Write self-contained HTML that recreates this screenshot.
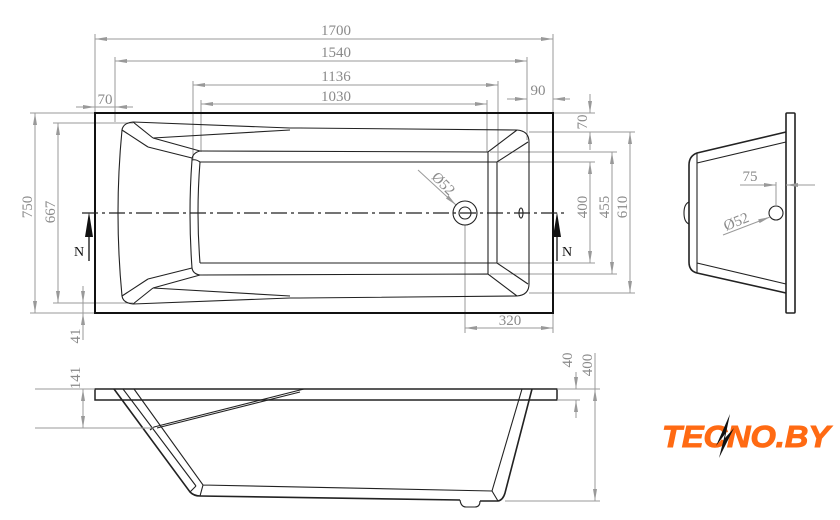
<!DOCTYPE html>
<html><head><meta charset="utf-8"><style>
html,body{margin:0;padding:0;background:#fff;}
svg{display:block}
.d{stroke:#9a9a9a;stroke-width:1;fill:none}
.t{font-family:"Liberation Serif",serif;font-size:15px;fill:#8a8a8a}
.k{stroke:#222;stroke-width:1.1;fill:none}
.K{stroke:#111;stroke-width:2;fill:none}
</style></head><body>
<svg width="840" height="520" viewBox="0 0 840 520" xmlns="http://www.w3.org/2000/svg">
<defs>
<marker id="a" viewBox="0 0 12 4" refX="12" refY="2" markerWidth="12" markerHeight="4" markerUnits="userSpaceOnUse" orient="auto-start-reverse"><path d="M0,0 L12,2 L0,4 z" fill="#999"/></marker>
</defs>
<g class="d">
<line x1="95" y1="34" x2="95" y2="113"/><line x1="553" y1="34" x2="553" y2="113"/>
<line x1="95" y1="39" x2="553" y2="39" marker-start="url(#a)" marker-end="url(#a)"/>
<line x1="115" y1="57" x2="115" y2="122"/><line x1="527" y1="57" x2="527" y2="140"/>
<line x1="115" y1="61" x2="527" y2="61" marker-start="url(#a)" marker-end="url(#a)"/>
<line x1="193" y1="81" x2="193" y2="160"/><line x1="498" y1="81" x2="498" y2="162"/>
<line x1="193" y1="85" x2="498" y2="85" marker-start="url(#a)" marker-end="url(#a)"/>
<line x1="201" y1="100" x2="201" y2="152"/><line x1="487" y1="100" x2="487" y2="152"/>
<line x1="201" y1="104" x2="487" y2="104" marker-start="url(#a)" marker-end="url(#a)"/>
<line x1="76" y1="107" x2="95" y2="107" marker-end="url(#a)"/><line x1="133" y1="107" x2="115" y2="107" marker-end="url(#a)"/>
<line x1="88" y1="107" x2="133" y2="107"/>
<line x1="507" y1="99" x2="527" y2="99" marker-end="url(#a)"/><line x1="570" y1="99" x2="553" y2="99" marker-end="url(#a)"/>
<line x1="553" y1="99" x2="570" y2="99"/>
<line x1="553" y1="113" x2="595" y2="113"/><line x1="529" y1="132" x2="635" y2="132"/>
<line x1="590" y1="94" x2="590" y2="113" marker-end="url(#a)"/><line x1="590" y1="150" x2="590" y2="132" marker-end="url(#a)"/>
<line x1="498" y1="162" x2="595" y2="162"/><line x1="498" y1="263" x2="595" y2="263"/>
<line x1="590" y1="162" x2="590" y2="263" marker-start="url(#a)" marker-end="url(#a)"/>
<line x1="490" y1="152" x2="617" y2="152"/><line x1="490" y1="274" x2="617" y2="274"/>
<line x1="612" y1="152" x2="612" y2="274" marker-start="url(#a)" marker-end="url(#a)"/>
<line x1="529" y1="293" x2="635" y2="293"/>
<line x1="630" y1="132" x2="630" y2="293" marker-start="url(#a)" marker-end="url(#a)"/>
<line x1="30" y1="113" x2="95" y2="113"/><line x1="30" y1="313" x2="95" y2="313"/>
<line x1="35" y1="113" x2="35" y2="313" marker-start="url(#a)" marker-end="url(#a)"/>
<line x1="53" y1="123" x2="133" y2="123"/><line x1="53" y1="303" x2="133" y2="303"/>
<line x1="58" y1="123" x2="58" y2="303" marker-start="url(#a)" marker-end="url(#a)"/>
<line x1="83" y1="286" x2="83" y2="303" marker-end="url(#a)"/><line x1="83" y1="332" x2="83" y2="313" marker-end="url(#a)"/>
<line x1="83" y1="303" x2="83" y2="340"/>
<line x1="465" y1="225" x2="465" y2="333"/><line x1="553" y1="313" x2="553" y2="333"/>
<line x1="465" y1="328" x2="553" y2="328" marker-start="url(#a)" marker-end="url(#a)"/>
<line x1="418" y1="170" x2="456" y2="205" marker-end="url(#a)"/>
</g>
<g class="t">
<text x="336" y="35" text-anchor="middle">1700</text>
<text x="336" y="57" text-anchor="middle">1540</text>
<text x="336" y="81" text-anchor="middle">1136</text>
<text x="336" y="101" text-anchor="middle">1030</text>
<text x="105" y="104" text-anchor="middle">70</text>
<text x="538" y="95" text-anchor="middle">90</text>
<text x="510" y="325" text-anchor="middle">320</text>
<text transform="translate(587,122) rotate(-90)" text-anchor="middle">70</text>
<text transform="translate(587,207) rotate(-90)" text-anchor="middle">400</text>
<text transform="translate(609,207) rotate(-90)" text-anchor="middle">455</text>
<text transform="translate(627,207) rotate(-90)" text-anchor="middle">610</text>
<text transform="translate(32,207) rotate(-90)" text-anchor="middle">750</text>
<text transform="translate(55,212) rotate(-90)" text-anchor="middle">667</text>
<text transform="translate(80,336) rotate(-90)" text-anchor="middle">41</text>
<text transform="translate(440,187) rotate(45)" text-anchor="middle">Ø52</text>
</g>
<rect x="95" y="113" width="458" height="200" class="K"/>
<g class="k">
<path d="M133,122 L290,128 L300,128 L517,130 Q529,131 529,142 L529,284 Q529,295 517,296 L300,298 L290,298 L133,304 Q123,303 122,296 Q114,213 122,130 Q123,123 133,122 Z"/>
<path d="M153,138 L290,130 M153,288 L290,296"/>
<path d="M133,122 L153,138 M122,130 L148,147 M133,304 L153,288 M122,296 L148,279"/>
<path d="M153,138 L200,151 M148,147 L192,158 M153,288 L200,275 M148,279 L192,268"/>
<path d="M200,151 L488,152 L517,130 M192,160 Q196,159 200,162 L497,162 L528,142"/>
<path d="M200,275 L488,274 L517,296 M200,263 L497,263 L528,284"/>
<path d="M200,151 Q192,153 192,160 Q188,213 192,268 Q193,274 200,275 M200,162 Q196,213 200,263"/>
<path d="M488,152 L488,274 M497,162 L497,263"/>
<circle cx="465" cy="213" r="12"/><circle cx="465" cy="213" r="6"/>
<ellipse cx="521" cy="213" rx="2" ry="5"/>
</g>
<line x1="82" y1="213" x2="566" y2="213" stroke="#222" stroke-width="1.2" stroke-dasharray="16,4,3,4"/>
<g stroke="#111" stroke-width="1.3"><line x1="89" y1="222" x2="89" y2="261"/><line x1="557" y1="222" x2="557" y2="261"/></g>
<path d="M89,212 L85,237 L93,237 Z M557,212 L553,237 L561,237 Z" fill="#111"/>
<g font-family="Liberation Serif,serif" font-size="14" fill="#111"><text x="74" y="256">N</text><text x="562" y="256">N</text></g>
<g class="k">
<rect x="786" y="113" width="9" height="200" rx="1" stroke-width="1.6"/>
<path d="M786,132 L697,153 Q689,156 689,165 L689,262 Q689,271 697,273 L786,293" stroke-width="1.6"/>
<path d="M786,142 L697,163 M786,284 L697,263 M697,153 L697,273"/>
<path d="M689,202 Q684,204 684,213 Q684,222 689,224"/>
<circle cx="776" cy="213" r="7"/>
</g>
<g class="d">
<line x1="776" y1="182" x2="776" y2="206"/>
<line x1="740" y1="185" x2="776" y2="185" marker-end="url(#a)"/><line x1="815" y1="185" x2="786" y2="185" marker-end="url(#a)"/>
<line x1="723" y1="235" x2="770" y2="217" marker-end="url(#a)"/>
</g>
<g class="t">
<text x="750" y="181" text-anchor="middle">75</text>
<text transform="translate(738,226) rotate(-22)" text-anchor="middle">Ø52</text>
</g>
<g class="k">
<rect x="95" y="389" width="462" height="11" stroke-width="1.5"/>
<path d="M114,389 L190,492 Q194,496 200,496 L460,500 M480,501 L498,501 Q503,500 505,493 L532,389" stroke-width="1.6"/>
<path d="M123,389 L196,486 M134,389 L203,485 L492,491 L522,389 M190,492 L196,486 M203,485 L200,496 M492,491 L498,501"/>
<path d="M304,389 L154,427 M300,392 L157,428 M154,427 L150,430"/>
<path d="M460,500 Q461,507 466,507 L475,507 Q480,507 480,501"/>
</g>
<g class="d">
<line x1="35" y1="389" x2="95" y2="389"/><line x1="35" y1="428" x2="154" y2="428"/>
<line x1="83" y1="389" x2="83" y2="428" marker-start="url(#a)" marker-end="url(#a)"/>
<line x1="557" y1="389" x2="600" y2="389"/><line x1="557" y1="400" x2="580" y2="400"/>
<line x1="505" y1="501" x2="600" y2="501"/>
<line x1="576" y1="372" x2="576" y2="389" marker-end="url(#a)"/><line x1="576" y1="418" x2="576" y2="400" marker-end="url(#a)"/>
<line x1="595" y1="353" x2="595" y2="501"/>
<line x1="595" y1="389" x2="595" y2="501" marker-start="url(#a)" marker-end="url(#a)"/>
</g>
<g class="t">
<text transform="translate(80,378) rotate(-90)" text-anchor="middle">141</text>
<text transform="translate(572,360) rotate(-90)" text-anchor="middle">40</text>
<text transform="translate(592,365) rotate(-90)" text-anchor="middle">400</text>
</g>
<g font-family="Liberation Sans,sans-serif" font-weight="bold" font-style="italic" font-size="31">
<text x="662" y="447" fill="#ff6a13" stroke="#ff6a13" stroke-width="1" textLength="168" lengthAdjust="spacingAndGlyphs">TECNO.BY</text>
</g>
<path d="M730,414 L716,446 L725,434 L719,458 L734,428 L725,438 Z" fill="#111"/>
</svg>
</body></html>
